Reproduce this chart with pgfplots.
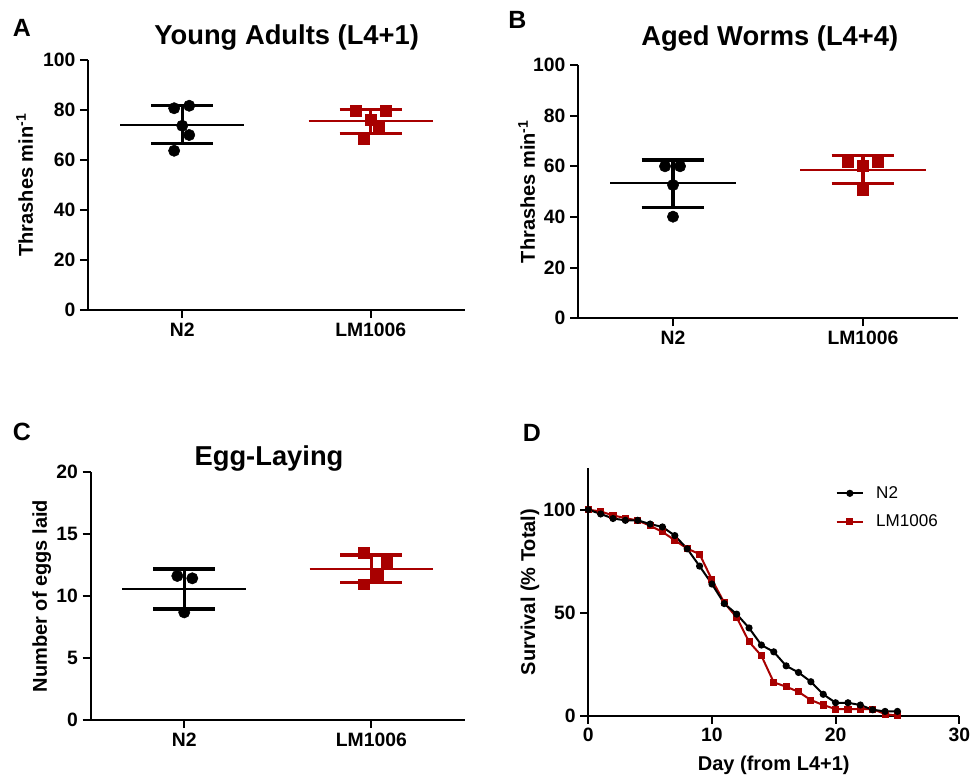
\documentclass[border=0pt]{standalone}
\usepackage{fontspec}
\setmainfont{Liberation Sans}
\usepackage{pgfplots}
\pgfplotsset{compat=1.18}
\definecolor{lmred}{RGB}{168,0,0}

\pgfplotsset{
  panel/.style={
    scale only axis, anchor=south west,
    axis lines=left, axis line style={-, line width=1.5pt},
    tick align=outside, major tick length=6pt,
    major tick style={black, line width=1.5pt},
    ticklabel style={font=\bfseries\fontsize{14.5}{16}\selectfont},
    /pgf/number format/assume math mode=true,
    label style={font=\bfseries\fontsize{15}{17}\selectfont},
    clip=false,
  },
  cat/.style={panel, xmin=0.5, xmax=2.5, xtick={1,2},
    xticklabels={N2,LM1006}, ymin=0},
  dots/.style={only marks, mark=*, mark size=4.25pt, black,
    mark options={draw=none, fill=black}},
  squares/.style={only marks, mark=square*, mark size=4.1pt, lmred,
    mark options={draw=none, fill=lmred}},
  meanline/.style={line width=1.35pt},
  sdline/.style={line width=2.4pt},
}

\begin{document}
\begin{tikzpicture}
\path[use as bounding box] (0,0) rectangle (727.5pt,-582.75pt);

% A: young adults
\begin{axis}[cat, at={(66pt,-232.5pt)}, width=282.75pt, height=187.5pt,
  ymax=100, ytick={0,20,...,100},
  ylabel={Thrashes min\textsuperscript{-1}},
  ylabel style={at={(axis description cs:-0.168,0.5)}, anchor=center}]
  \addplot[black, sdline] coordinates {(1,66.7) (1,81.7)};
  \addplot[black, sdline] coordinates {(0.835,81.7) (1.165,81.7)};
  \addplot[black, sdline] coordinates {(0.835,66.7) (1.165,66.7)};
  \addplot[black, meanline] coordinates {(0.67,74.1) (1.33,74.1)};
  \addplot[dots] coordinates {(0.957,80.7) (1.037,81.7) (1,73.7) (1.037,70) (0.957,63.7)};
  \addplot[lmred, sdline] coordinates {(2,70.7) (2,80.3)};
  \addplot[lmred, sdline] coordinates {(1.835,80.3) (2.165,80.3)};
  \addplot[lmred, sdline] coordinates {(1.835,70.7) (2.165,70.7)};
  \addplot[lmred, meanline] coordinates {(1.67,75.6) (2.33,75.6)};
  \addplot[squares] coordinates {(1.92,79.6) (2.08,79.6) (2,76) (2.043,73.7) (1.963,68.3)};
\end{axis}

% B: aged worms
\begin{axis}[cat, at={(433.5pt,-238.7pt)}, width=285pt, height=190pt,
  ymax=100, ytick={0,20,...,100},
  ylabel={Thrashes min\textsuperscript{-1}},
  ylabel style={at={(axis description cs:-0.135,0.5)}, anchor=center}]
  \addplot[black, sdline] coordinates {(1,43.8) (1,62.5)};
  \addplot[black, sdline] coordinates {(0.835,62.5) (1.165,62.5)};
  \addplot[black, sdline] coordinates {(0.835,43.8) (1.165,43.8)};
  \addplot[black, meanline] coordinates {(0.67,53.3) (1.33,53.3)};
  \addplot[dots] coordinates {(0.958,60) (1.037,60) (1,52.6) (1,40.1)};
  \addplot[lmred, sdline] coordinates {(2,53.3) (2,64.2)};
  \addplot[lmred, sdline] coordinates {(1.835,64.2) (2.165,64.2)};
  \addplot[lmred, sdline] coordinates {(1.835,53.3) (2.165,53.3)};
  \addplot[lmred, meanline] coordinates {(1.67,58.6) (2.33,58.6)};
  \addplot[squares] coordinates {(1.92,61.6) (2.08,61.6) (2,60.3) (2,50.7)};
\end{axis}

% C: egg laying
\begin{axis}[cat, at={(68pt,-540pt)}, width=280.7pt, height=185.8pt,
  ymax=20, ytick={0,5,...,20},
  ylabel={Number of eggs laid},
  ylabel style={at={(axis description cs:-0.131,0.5)}, anchor=center}]
  \addplot[black, sdline] coordinates {(1,8.96) (1,12.19)};
  \addplot[black, sdline] coordinates {(0.835,12.19) (1.165,12.19)};
  \addplot[black, sdline] coordinates {(0.835,8.96) (1.165,8.96)};
  \addplot[black, meanline] coordinates {(0.67,10.58) (1.33,10.58)};
  \addplot[dots] coordinates {(0.963,11.63) (1.043,11.44) (1,8.69)};
  \addplot[lmred, sdline] coordinates {(2,11.09) (2,13.32)};
  \addplot[lmred, sdline] coordinates {(1.835,13.32) (2.165,13.32)};
  \addplot[lmred, sdline] coordinates {(1.835,11.09) (2.165,11.09)};
  \addplot[lmred, meanline] coordinates {(1.67,12.19) (2.33,12.19)};
  \addplot[squares] coordinates {(1.957,13.51) (2.08,12.79) (2.037,11.76) (1.957,10.96)};
\end{axis}

% D: survival
\begin{axis}[panel, at={(441.2pt,-536.8pt)}, width=278.25pt, height=185.5pt,
  xmin=0, xmax=30, ymin=0, ymax=120,
  xtick={0,10,20,30}, ytick={0,50,100},
  xlabel={Day (from L4+1)}, ylabel={Survival (\% Total)},
  xlabel style={at={(axis description cs:0.5,-0.2)}, anchor=center},
  ylabel style={at={(axis description cs:-0.157,0.5)}, anchor=center},
  reverse legend,
  legend style={at={(axis description cs:0.655,0.95)}, anchor=north west,
    draw=none, fill=none, font=\fontsize{12.8}{15}\selectfont,
    row sep=7pt, column sep=7pt},
  legend cell align=left,
  legend image code/.code={\draw[mark repeat=2,mark phase=2,#1]
    plot coordinates {(0pt,0pt) (10pt,0pt) (20pt,0pt)};}]
  \addplot[lmred, line width=1.5pt, mark=square*, mark size=1.9pt,
    mark options={draw=none, fill=lmred}] coordinates {
    (0,100) (1,99.1) (2,97.2) (3,95.9) (4,94.7) (5,92.2) (6,89.2)
    (7,85.1) (8,81.1) (9,78.4) (10,66.0) (11,54.8) (12,47.7) (13,35.9)
    (14,29.1) (15,16.2) (16,14.1) (17,11.6) (18,7.6) (19,5.2) (20,3.2)
    (21,3.2) (22,3.2) (23,3.2) (24,0.8) (25,0)};
  \addlegendentry{LM1006}
  \addplot[black, line width=1.5pt, mark=*, mark size=1.9pt,
    mark options={draw=none, fill=black}] coordinates {
    (0,100) (1,97.9) (2,95.7) (3,94.8) (4,94.8) (5,93.0) (6,91.6)
    (7,87.4) (8,81.0) (9,72.6) (10,63.9) (11,54.4) (12,49.3) (13,42.6)
    (14,34.3) (15,31.0) (16,24.2) (17,21.0) (18,16.5) (19,10.4) (20,6.3)
    (21,6.3) (22,5.2) (23,2.9) (24,2.1) (25,2.1)};
  \addlegendentry{N2}
\end{axis}

% titles and panel letters
\begin{scope}[every node/.style={inner sep=0pt}]
\node[font=\bfseries\fontsize{20.5}{24}\selectfont, anchor=base] at (215pt,-33.75pt) {Young Adults (L4+1)};
\node[font=\bfseries\fontsize{20.5}{24}\selectfont, anchor=base] at (577.3pt,-34.3pt) {Aged Worms (L4+4)};
\node[font=\bfseries\fontsize{20.5}{24}\selectfont, anchor=base] at (201.75pt,-348.75pt) {Egg-Laying};
\node[font=\bfseries\fontsize{18.7}{22}\selectfont, anchor=base west] at (9.5pt,-27.5pt) {A};
\node[font=\bfseries\fontsize{18.7}{22}\selectfont, anchor=base west] at (381pt,-21.3pt) {B};
\node[font=\bfseries\fontsize{18.7}{22}\selectfont, anchor=base west] at (9.5pt,-330.5pt) {C};
\node[font=\bfseries\fontsize{18.7}{22}\selectfont, anchor=base west] at (392pt,-331.25pt) {D};
\end{scope}
\end{tikzpicture}
\end{document}
